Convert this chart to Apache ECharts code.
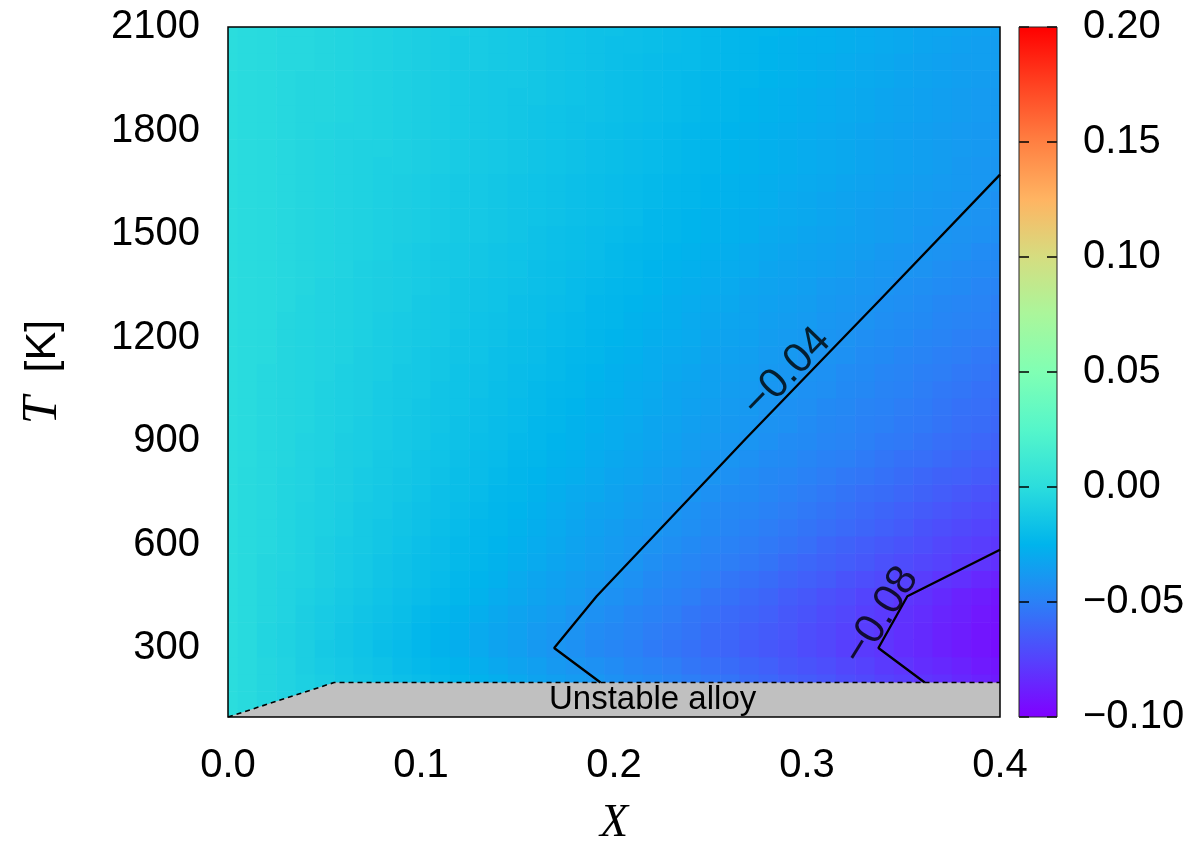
<!DOCTYPE html>
<html>
<head>
<meta charset="utf-8">
<script src="https://cdn.jsdelivr.net/npm/echarts@6/dist/echarts.min.js"></script>
<style>
html,body{margin:0;padding:0;background:#ffffff;}
#chart{width:1191px;height:841px;}
</style>
</head>
<body>
<div id="chart"></div>
<script>
// ---------------- DATA ----------------
const X_VALUES = [0,0.01,0.02,0.03,0.04,0.05,0.06,0.07,0.08,0.09,0.10,0.11,0.12,0.13,0.14,0.15,0.16,0.17,0.18,0.19,0.20,
  0.21,0.22,0.23,0.24,0.25,0.26,0.27,0.28,0.29,0.30,0.31,0.32,0.33,0.34,0.35,0.36,0.37,0.38,0.39,0.40];
const T_VALUES = [100,150,200,250,300,350,400,450,500,550,600,650,700,750,800,850,900,950,1000,1050,1100,
  1150,1200,1250,1300,1350,1400,1450,1500,1550,1600,1650,1700,1750,1800,1850,1900,1950,2000,2050,2100];
const X_TICKS = [0, 0.1, 0.2, 0.3, 0.4];
const T_TICKS = [300, 600, 900, 1200, 1500, 1800, 2100];
const CBAR_TICKS = [-0.10, -0.05, 0.00, 0.05, 0.10, 0.15, 0.20];
const VALUE_MIN = -0.10, VALUE_MAX = 0.20;
const MILLI = 0.001;   // table below is in units of 1e-3
// one row per T_VALUES entry (T = 100 ... 2100), one column per X_VALUES entry
const DG_ROWS_MILLI = [
[0,-2,-4,-6,-8,-10,-11,-13,-15,-17,-19,-21,-24,-26,-28,-30,-32,-34,-36,-38,-41,-43,-45,-47,-50,-52,-54,-56,-59,-61,-63,-66,-68,-71,-73,-76,-78,-80,-83,-85,-88],
[0,-2,-4,-6,-8,-10,-12,-14,-16,-18,-20,-22,-24,-26,-28,-30,-32,-34,-37,-39,-41,-43,-45,-48,-50,-52,-55,-57,-59,-62,-64,-66,-69,-71,-74,-76,-79,-81,-84,-86,-89],
[0,-2,-4,-6,-8,-10,-12,-14,-16,-18,-20,-22,-24,-26,-28,-31,-33,-35,-37,-39,-42,-44,-46,-48,-51,-53,-55,-58,-60,-63,-65,-67,-70,-72,-75,-77,-80,-82,-85,-87,-90],
[0,-2,-4,-6,-9,-11,-13,-15,-17,-20,-22,-24,-26,-28,-31,-33,-35,-38,-40,-42,-44,-47,-49,-51,-54,-56,-58,-61,-63,-66,-68,-70,-73,-75,-78,-80,-83,-85,-87,-90,-92],
[0,-2,-5,-7,-9,-12,-14,-16,-19,-21,-23,-26,-28,-30,-33,-35,-38,-40,-42,-45,-47,-49,-52,-54,-56,-59,-61,-64,-66,-68,-71,-73,-76,-78,-80,-83,-85,-88,-90,-92,-95],
[0,-2,-5,-7,-9,-11,-14,-16,-18,-20,-23,-25,-27,-30,-32,-34,-37,-39,-41,-44,-46,-48,-51,-53,-55,-58,-60,-63,-65,-67,-70,-72,-75,-77,-79,-82,-84,-87,-89,-92,-94],
[0,-2,-4,-6,-9,-11,-13,-15,-17,-19,-22,-24,-26,-28,-31,-33,-35,-37,-40,-42,-44,-47,-49,-51,-54,-56,-59,-61,-63,-66,-68,-71,-73,-76,-78,-81,-83,-86,-88,-91,-93],
[0,-2,-4,-6,-8,-10,-12,-14,-16,-18,-20,-22,-24,-26,-29,-31,-33,-35,-37,-40,-42,-44,-47,-49,-51,-54,-56,-59,-61,-64,-66,-69,-71,-74,-76,-79,-81,-84,-87,-89,-92],
[0,-2,-4,-6,-7,-9,-11,-13,-15,-17,-19,-21,-23,-25,-27,-30,-32,-34,-36,-38,-40,-42,-45,-47,-49,-51,-54,-56,-58,-61,-63,-65,-68,-70,-72,-75,-77,-80,-82,-85,-87],
[0,-2,-4,-5,-7,-9,-11,-13,-15,-17,-19,-20,-22,-24,-26,-28,-30,-32,-34,-36,-38,-40,-43,-45,-47,-49,-51,-53,-55,-58,-60,-62,-64,-66,-69,-71,-73,-75,-78,-80,-82],
[0,-2,-3,-5,-7,-9,-11,-12,-14,-16,-18,-20,-22,-23,-25,-27,-29,-31,-33,-35,-37,-39,-41,-43,-45,-47,-49,-51,-53,-55,-57,-60,-62,-64,-66,-68,-70,-73,-75,-77,-79],
[0,-2,-3,-5,-7,-8,-10,-12,-14,-15,-17,-19,-21,-23,-24,-26,-28,-30,-32,-34,-36,-38,-39,-41,-43,-45,-47,-49,-51,-53,-55,-57,-59,-61,-63,-65,-68,-70,-72,-74,-76],
[0,-2,-3,-5,-7,-8,-10,-12,-13,-15,-17,-18,-20,-22,-24,-25,-27,-29,-31,-33,-34,-36,-38,-40,-42,-44,-46,-47,-49,-51,-53,-55,-57,-59,-61,-63,-65,-67,-69,-71,-73],
[0,-2,-3,-5,-6,-8,-9,-11,-13,-14,-16,-18,-19,-21,-23,-24,-26,-28,-30,-31,-33,-35,-37,-38,-40,-42,-44,-45,-47,-49,-51,-53,-55,-57,-58,-60,-62,-64,-66,-68,-70],
[0,-2,-3,-5,-6,-8,-9,-11,-12,-14,-15,-17,-19,-20,-22,-24,-25,-27,-28,-30,-32,-33,-35,-37,-39,-40,-42,-44,-46,-47,-49,-51,-53,-54,-56,-58,-60,-62,-63,-65,-67],
[0,-1,-3,-4,-6,-7,-9,-10,-12,-13,-15,-16,-18,-20,-21,-23,-24,-26,-27,-29,-31,-32,-34,-35,-37,-39,-40,-42,-44,-45,-47,-49,-50,-52,-54,-56,-57,-59,-61,-63,-64],
[0,-1,-3,-4,-6,-7,-9,-10,-11,-13,-14,-16,-17,-19,-20,-22,-23,-25,-26,-28,-29,-31,-32,-34,-36,-37,-39,-40,-42,-44,-45,-47,-48,-50,-52,-53,-55,-57,-58,-60,-62],
[0,-1,-3,-4,-5,-7,-8,-10,-11,-13,-14,-15,-17,-18,-20,-21,-23,-24,-26,-27,-29,-30,-32,-33,-35,-36,-38,-39,-41,-42,-44,-46,-47,-49,-50,-52,-53,-55,-57,-58,-60],
[0,-1,-3,-4,-5,-7,-8,-9,-11,-12,-14,-15,-16,-18,-19,-21,-22,-24,-25,-27,-28,-29,-31,-32,-34,-35,-37,-38,-40,-42,-43,-45,-46,-48,-49,-51,-52,-54,-56,-57,-59],
[0,-1,-3,-4,-5,-7,-8,-9,-11,-12,-13,-15,-16,-17,-19,-20,-22,-23,-24,-26,-27,-29,-30,-32,-33,-34,-36,-37,-39,-40,-42,-43,-45,-46,-48,-49,-51,-53,-54,-56,-57],
[0,-1,-3,-4,-5,-6,-8,-9,-10,-12,-13,-14,-16,-17,-18,-20,-21,-22,-24,-25,-27,-28,-29,-31,-32,-34,-35,-36,-38,-39,-41,-42,-44,-45,-47,-48,-50,-51,-53,-54,-56],
[0,-1,-2,-4,-5,-6,-7,-9,-10,-11,-13,-14,-15,-16,-18,-19,-20,-22,-23,-24,-26,-27,-29,-30,-31,-33,-34,-35,-37,-38,-40,-41,-42,-44,-45,-47,-48,-50,-51,-53,-54],
[0,-1,-2,-4,-5,-6,-7,-8,-10,-11,-12,-13,-15,-16,-17,-19,-20,-21,-22,-24,-25,-26,-28,-29,-30,-32,-33,-34,-36,-37,-38,-40,-41,-43,-44,-45,-47,-48,-50,-51,-52],
[0,-1,-2,-4,-5,-6,-7,-8,-10,-11,-12,-13,-14,-16,-17,-18,-19,-21,-22,-23,-24,-26,-27,-28,-30,-31,-32,-33,-35,-36,-37,-39,-40,-41,-43,-44,-45,-47,-48,-49,-51],
[0,-1,-2,-3,-5,-6,-7,-8,-9,-10,-12,-13,-14,-15,-16,-18,-19,-20,-21,-23,-24,-25,-26,-28,-29,-30,-31,-33,-34,-35,-36,-38,-39,-40,-42,-43,-44,-46,-47,-48,-50],
[0,-1,-2,-3,-4,-6,-7,-8,-9,-10,-11,-12,-14,-15,-16,-17,-18,-19,-21,-22,-23,-24,-25,-27,-28,-29,-30,-32,-33,-34,-35,-37,-38,-39,-40,-42,-43,-44,-45,-47,-48],
[0,-1,-2,-3,-4,-5,-6,-8,-9,-10,-11,-12,-13,-14,-15,-16,-18,-19,-20,-21,-22,-23,-25,-26,-27,-28,-29,-30,-32,-33,-34,-35,-36,-38,-39,-40,-41,-43,-44,-45,-46],
[0,-1,-2,-3,-4,-5,-6,-7,-8,-10,-11,-12,-13,-14,-15,-16,-17,-18,-19,-20,-22,-23,-24,-25,-26,-27,-28,-30,-31,-32,-33,-34,-35,-36,-38,-39,-40,-41,-42,-44,-45],
[0,-1,-2,-3,-4,-5,-6,-7,-8,-9,-10,-11,-12,-13,-14,-15,-17,-18,-19,-20,-21,-22,-23,-24,-25,-26,-27,-28,-30,-31,-32,-33,-34,-35,-36,-37,-39,-40,-41,-42,-43],
[0,-1,-2,-3,-4,-5,-6,-7,-8,-9,-10,-11,-12,-13,-14,-15,-16,-17,-18,-19,-20,-21,-23,-24,-25,-26,-27,-28,-29,-30,-31,-32,-33,-35,-36,-37,-38,-39,-40,-41,-42],
[0,-1,-2,-3,-4,-5,-6,-7,-8,-9,-10,-11,-12,-13,-14,-15,-16,-17,-18,-19,-20,-21,-22,-23,-24,-25,-26,-27,-28,-30,-31,-32,-33,-34,-35,-36,-37,-38,-39,-40,-42],
[0,-1,-2,-3,-4,-5,-6,-7,-8,-9,-10,-11,-12,-13,-14,-15,-16,-17,-18,-19,-20,-21,-22,-23,-24,-25,-26,-27,-28,-29,-30,-31,-32,-33,-34,-35,-36,-37,-38,-39,-40],
[0,-1,-2,-3,-4,-5,-6,-7,-8,-8,-9,-10,-11,-12,-13,-14,-15,-16,-17,-18,-19,-20,-21,-22,-23,-24,-25,-26,-27,-28,-29,-30,-31,-32,-33,-34,-35,-36,-38,-39,-40],
[0,-1,-2,-3,-4,-5,-6,-7,-7,-8,-9,-10,-11,-12,-13,-14,-15,-16,-17,-18,-19,-20,-21,-22,-23,-24,-25,-26,-27,-28,-29,-30,-31,-32,-33,-34,-35,-36,-37,-38,-39],
[0,-1,-2,-3,-4,-5,-6,-6,-7,-8,-9,-10,-11,-12,-13,-14,-15,-16,-17,-18,-19,-20,-21,-22,-23,-24,-25,-26,-27,-28,-29,-30,-31,-32,-33,-34,-35,-36,-37,-38,-39],
[0,-1,-2,-3,-4,-4,-5,-6,-7,-8,-9,-10,-11,-12,-13,-14,-15,-16,-17,-17,-18,-19,-20,-21,-22,-23,-24,-25,-26,-27,-28,-29,-30,-31,-32,-33,-34,-35,-36,-37,-38],
[0,-1,-2,-3,-4,-4,-5,-6,-7,-8,-9,-10,-11,-12,-13,-14,-14,-15,-16,-17,-18,-19,-20,-21,-22,-23,-24,-25,-26,-27,-28,-29,-30,-31,-32,-33,-34,-35,-36,-37,-38],
[0,-1,-2,-3,-4,-4,-5,-6,-7,-8,-9,-10,-11,-12,-13,-13,-14,-15,-16,-17,-18,-19,-20,-21,-22,-23,-24,-24,-25,-26,-27,-28,-29,-30,-31,-32,-33,-34,-35,-36,-37],
[0,-1,-2,-3,-3,-4,-5,-6,-7,-8,-9,-10,-11,-11,-12,-13,-14,-15,-16,-17,-18,-19,-20,-21,-21,-22,-23,-24,-25,-26,-27,-28,-29,-30,-31,-32,-33,-34,-35,-35,-36],
[0,-1,-2,-3,-3,-4,-5,-6,-7,-8,-9,-10,-11,-11,-12,-13,-14,-15,-16,-17,-18,-18,-19,-20,-21,-22,-23,-24,-25,-26,-27,-27,-28,-29,-30,-31,-32,-33,-34,-35,-36],
[0,-1,-2,-3,-3,-4,-5,-6,-7,-8,-9,-10,-10,-11,-12,-13,-14,-15,-16,-17,-17,-18,-19,-20,-21,-22,-23,-24,-24,-25,-26,-27,-28,-29,-30,-31,-32,-32,-33,-34,-35]
];
// contour lines
const C04_X = [0.193, 0.169, 0.191, 0.268, 0.338, 0.400];
const C04_T = [200, 300, 450, 905, 1310, 1672];
const C08_X = [0.361, 0.337, 0.352, 0.400];
const C08_T = [200, 300, 450, 585];
const CONTOUR_LABELS = ['\u22120.04', '\u22120.08'];
const CONTOUR_LABEL_X = [0.2896, 0.3383];
const CONTOUR_LABEL_T = [1098, 393];
const CONTOUR_LABEL_ROT = [46, 58];
// unstable (gray) region
const UNSTABLE_X = [0, 0.055, 0.4, 0.4];
const UNSTABLE_T = [100, 200, 200, 100];
const BOUNDARY_X = [0, 0.055, 0.4];
const BOUNDARY_T = [100, 200, 200];
const UNSTABLE_TEXT = 'Unstable alloy';
const UNSTABLE_TEXT_POS = [0.22, 150];

// ---------------- STYLE ----------------
const RAINBOW = ['#8000ff','#5542fd','#2b80f6','#00b4ec','#2bdddd','#55f6ca','#80ffb4',
                 '#aaf69b','#d5dd80','#ffb462','#ff8042','#ff4221','#ff0000'];
const SANS = '"Liberation Sans", Arial, Helvetica, sans-serif';
const SERIF = '"Liberation Serif", "Times New Roman", serif';
const FS = 40;
const CBAR_TICK_LEN = 10;

function fmtMinus(v, d) {
  if (Math.abs(v) < 1e-9) v = 0;
  return v.toFixed(d).replace('-', '\u2212');
}

const cells = [];
T_VALUES.forEach((t, i) => {
  X_VALUES.forEach((x, j) => {
    cells.push([x, t, DG_ROWS_MILLI[i][j] * MILLI, j, i]);
  });
});

function renderCell(params, api) {
  const j = api.value(3), i = api.value(4);
  const x = X_VALUES[j], t = T_VALUES[i];
  const xl = j > 0 ? (X_VALUES[j - 1] + x) / 2 : x;
  const xr = j < X_VALUES.length - 1 ? (X_VALUES[j + 1] + x) / 2 : x;
  const tb = i > 0 ? (T_VALUES[i - 1] + t) / 2 : t;
  const tt = i < T_VALUES.length - 1 ? (T_VALUES[i + 1] + t) / 2 : t;
  const p0 = api.coord([xl, tt]);
  const p1 = api.coord([xr, tb]);
  return {
    type: 'rect',
    shape: { x: p0[0], y: p0[1], width: p1[0] - p0[0] + 0.6, height: p1[1] - p0[1] + 0.6 },
    style: { fill: api.visual('color') }
  };
}

function renderColorbar(params, api) {
  const p0 = api.coord([0, api.value(1)]);
  const p1 = api.coord([1, api.value(0)]);
  const stops = RAINBOW.map((c, k) => ({ offset: k / (RAINBOW.length - 1), color: c }));
  return {
    type: 'rect',
    shape: { x: p0[0], y: p0[1], width: p1[0] - p0[0], height: p1[1] - p0[1] },
    style: { fill: { type: 'linear', x: 0, y: 1, x2: 0, y2: 0, colorStops: stops } }
  };
}

function renderCbarTick(params, api) {
  const v = api.value(1);
  const l = api.coord([0, v]);
  const r = api.coord([1, v]);
  const st = { stroke: '#000', lineWidth: 1.5 };
  return {
    type: 'group',
    children: [
      { type: 'line', shape: { x1: l[0], y1: l[1], x2: l[0] + CBAR_TICK_LEN, y2: l[1] }, style: st },
      { type: 'line', shape: { x1: r[0], y1: r[1], x2: r[0] - CBAR_TICK_LEN, y2: r[1] }, style: st }
    ]
  };
}

function renderUnstable(params, api) {
  const pts = UNSTABLE_X.map((x, k) => api.coord([x, UNSTABLE_T[k]]));
  const c = api.coord([api.value(0), api.value(1)]);
  return {
    type: 'group',
    children: [
      { type: 'polygon', shape: { points: pts }, style: { fill: '#c0c0c0' } },
      { type: 'text', x: c[0], y: c[1],
        style: { text: UNSTABLE_TEXT, fill: '#000', fontSize: 33, fontFamily: SANS,
                 align: 'center', verticalAlign: 'middle' } }
    ]
  };
}

const chart = echarts.init(document.getElementById('chart'), null, { renderer: 'canvas' });
chart.setOption({
  animation: false,
  backgroundColor: '#ffffff',
  textStyle: { fontFamily: SANS },
  grid: [
    { left: 228, top: 27, width: 772, height: 690, show: true, z: 20, outerBoundsMode: 'none',
      containLabel: false,
      borderColor: '#000', borderWidth: 1.5, backgroundColor: 'transparent' },
    { left: 1019, top: 27, width: 38, height: 690, show: true, z: 20, outerBoundsMode: 'none',
      containLabel: false,
      borderColor: '#222', borderWidth: 1, backgroundColor: 'transparent' }
  ],
  xAxis: [
    { type: 'value', gridIndex: 0, min: 0, max: 0.4, interval: 0.1,
      axisLine: { show: false, onZero: false }, axisTick: { show: false }, splitLine: { show: false },
      axisLabel: { fontSize: FS, color: '#000', fontFamily: SANS, margin: 29,
                   formatter: v => v.toFixed(1) },
      name: 'X', nameLocation: 'middle', nameGap: 84,
      nameTextStyle: { fontSize: 46, fontFamily: SERIF, fontStyle: 'italic', color: '#000' } },
    { type: 'value', gridIndex: 1, min: 0, max: 1, show: false }
  ],
  yAxis: [
    { type: 'value', gridIndex: 0, min: 100, max: 2100,
      axisLine: { show: false, onZero: false }, axisTick: { show: false }, splitLine: { show: false },
      axisLabel: { fontSize: FS, color: '#000', fontFamily: SANS, margin: 28,
                   customValues: T_TICKS, formatter: v => String(v) },
      name: '{it|T}  [K]', nameLocation: 'middle', nameGap: 160, nameRotate: 90,
      nameTextStyle: { fontSize: 43, fontFamily: SANS, color: '#000',
        rich: { it: { fontSize: 50, fontFamily: SERIF, fontStyle: 'italic', color: '#000' } } } },
    { type: 'value', gridIndex: 1, position: 'right', min: VALUE_MIN, max: VALUE_MAX, interval: 0.05,
      axisLine: { show: false, onZero: false }, axisTick: { show: false },
      splitLine: { show: false },
      axisLabel: { fontSize: FS, color: '#000', fontFamily: SANS, margin: 26,
                   formatter: v => fmtMinus(v, 2) } }
  ],
  visualMap: {
    type: 'continuous', show: false, min: VALUE_MIN, max: VALUE_MAX,
    dimension: 2, seriesIndex: 0, inRange: { color: RAINBOW }
  },
  series: [
    { type: 'custom', name: 'map', xAxisIndex: 0, yAxisIndex: 0, clip: true, z: 1,
      renderItem: renderCell, encode: { x: 0, y: 1 }, data: cells, silent: true },
    { type: 'custom', name: 'colorbar', xAxisIndex: 1, yAxisIndex: 1, z: 1,
      renderItem: renderColorbar, data: [[VALUE_MIN, VALUE_MAX]], encode: { y: [0, 1] }, silent: true },
    { type: 'custom', name: 'colorbarTicks', xAxisIndex: 1, yAxisIndex: 1, z: 8,
      renderItem: renderCbarTick, data: CBAR_TICKS.map(v => [0.5, v]), encode: { x: 0, y: 1 }, silent: true },
    { type: 'custom', name: 'unstable', xAxisIndex: 0, yAxisIndex: 0, z: 3, clip: true,
      renderItem: renderUnstable, data: [UNSTABLE_TEXT_POS], encode: { x: 0, y: 1 }, silent: true },
    { type: 'line', name: 'boundary', xAxisIndex: 0, yAxisIndex: 0, z: 4, silent: true,
      data: BOUNDARY_X.map((x, k) => [x, BOUNDARY_T[k]]), showSymbol: false, symbol: 'none',
      lineStyle: { color: '#000', width: 1.6, type: [5, 4] } },
    { type: 'line', name: 'c04', xAxisIndex: 0, yAxisIndex: 0, z: 5, silent: true,
      data: C04_X.map((x, k) => [x, C04_T[k]]), showSymbol: false, symbol: 'none',
      lineStyle: { color: '#000', width: 2.3 } },
    { type: 'line', name: 'c08', xAxisIndex: 0, yAxisIndex: 0, z: 5, silent: true,
      data: C08_X.map((x, k) => [x, C08_T[k]]), showSymbol: false, symbol: 'none',
      lineStyle: { color: '#000', width: 2.3 } },
    { type: 'scatter', name: 'labels', xAxisIndex: 0, yAxisIndex: 0, z: 6, silent: true,
      symbolSize: 0,
      data: CONTOUR_LABELS.map((s, k) => ({
        value: [CONTOUR_LABEL_X[k], CONTOUR_LABEL_T[k]],
        label: { formatter: s, rotate: CONTOUR_LABEL_ROT[k] }
      })),
      label: { show: true, position: 'inside', fontSize: 42, color: '#000', fontFamily: SANS } }
  ]
});
</script>
</body>
</html>
